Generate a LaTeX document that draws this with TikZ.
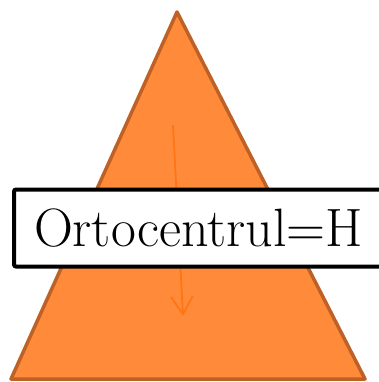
\documentclass[tikz,border=0pt]{standalone}
\usetikzlibrary{arrows.meta}
\definecolor{triFill}{HTML}{FF8B3A}
\definecolor{triEdge}{HTML}{BE6126}
\definecolor{hLine}{HTML}{FF7414}
\begin{document}
\begin{tikzpicture}[x=1pt,y=-1pt,>={Straight Barb[length=18pt,width=22pt]}]
	\tikzset{label box/.style={draw=black,fill=white,line width=4pt,rounded corners=2pt,
		text width=343pt,align=left,inner xsep=20pt,inner ysep=0pt,minimum height=77pt,
		font=\fontsize{54}{62}\selectfont}}
	\useasboundingbox (0,0) rectangle (378,382);
	\path 
	(177,12)coordinate(A)
	(11,379)coordinate(B)
	(365,379)coordinate(C)
	(173,125)coordinate(P)
	(183,316)coordinate(H)
	;
	\filldraw[fill=triFill,draw=triEdge,line width=3.5pt,line join=round] (A)--(B)--(C)--cycle;
	\draw[hLine,line width=1.8pt,->] (P)--(H);
	\node[label box,anchor=west] (t) at (12,228) {Ortocentrul=H};
\end{tikzpicture}
\end{document}
